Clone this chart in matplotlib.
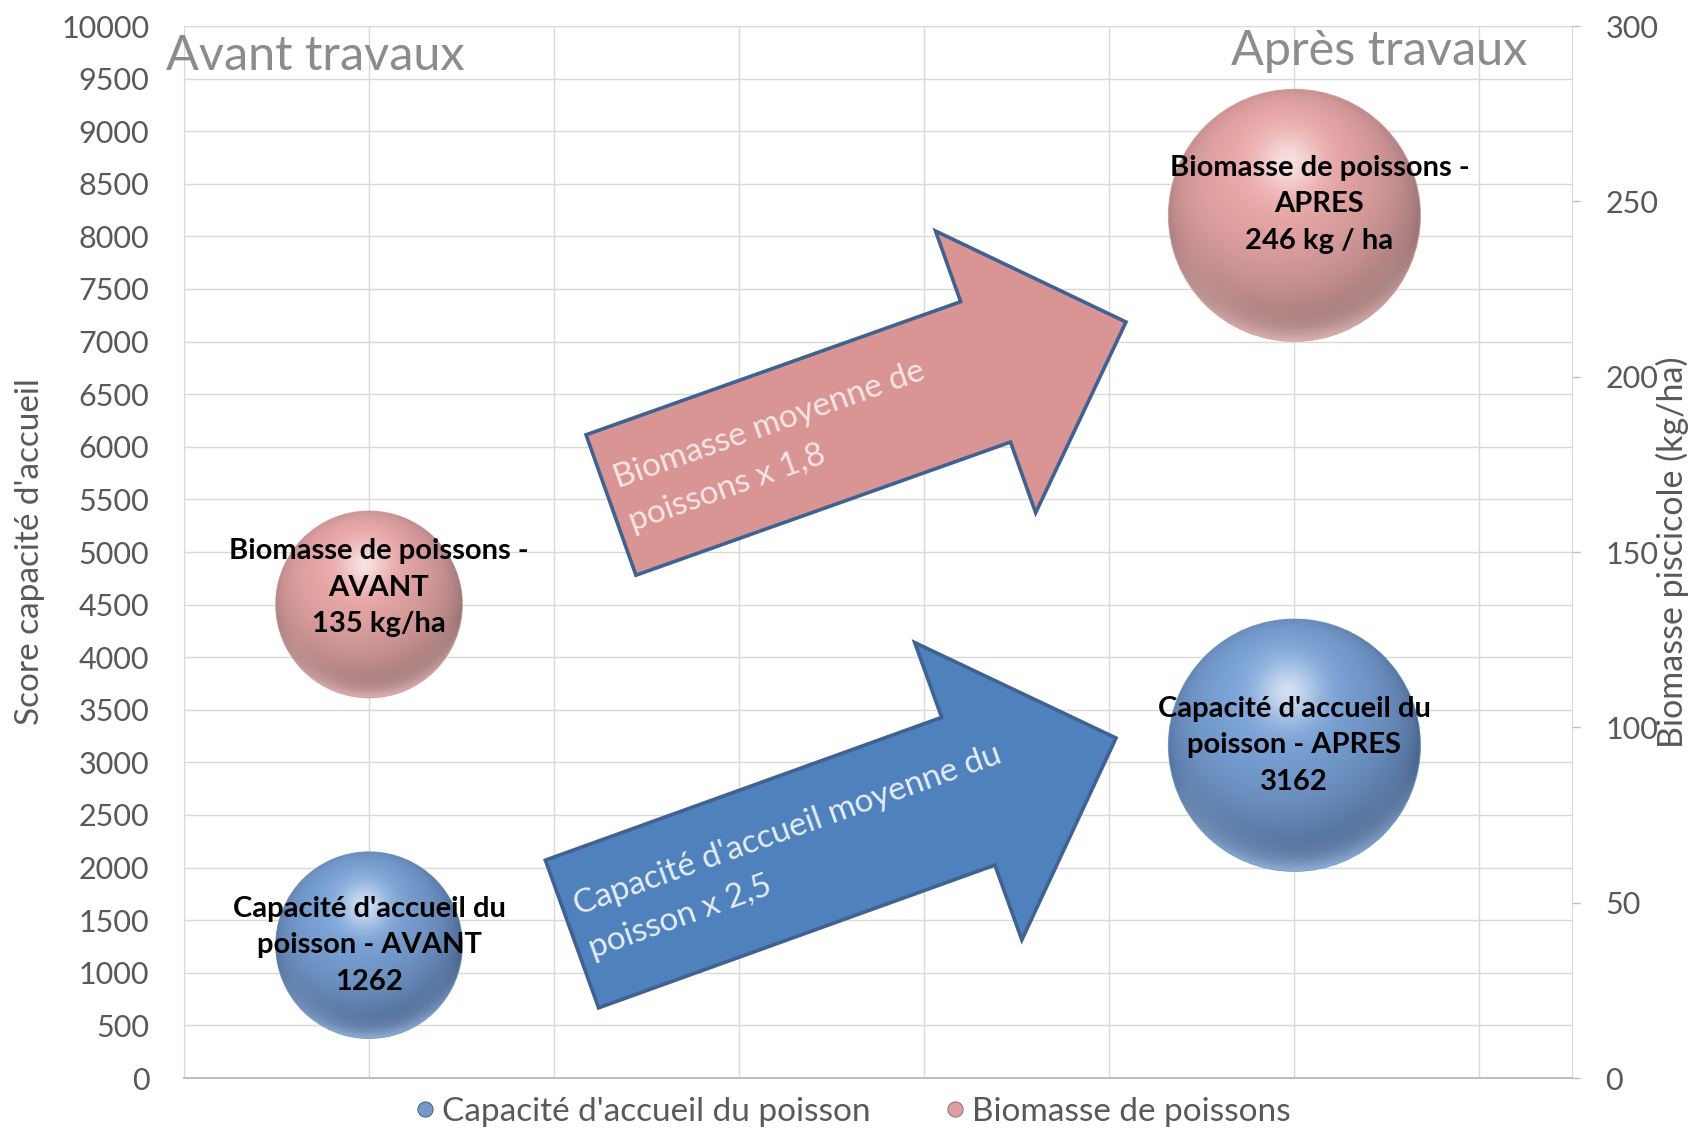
import numpy as np
import matplotlib
matplotlib.use("Agg")
import matplotlib.pyplot as plt
import matplotlib.colors as mcolors
from matplotlib.patches import Polygon
from matplotlib.lines import Line2D

plt.rcParams["font.family"] = ["Lato", "DejaVu Sans"]

# --- data -------------------------------------------------------------
x_pos = [1, 6]                      # avant / après travaux
capacite = [1262, 3162]             # score capacité d'accueil (axe gauche)
biomasse = [135, 246]               # biomasse piscicole kg/ha (axe droit)
taille_bulle = [135, 246]           # taille des bulles (les deux séries)
labels_capacite = ["Capacité d'accueil du\npoisson - AVANT\n1262",
                   "Capacité d'accueil du\npoisson - APRES\n3162"]
labels_biomasse = ["Biomasse de poissons -\nAVANT\n135 kg/ha",
                   "Biomasse de poissons -\nAPRES\n246 kg / ha"]
periodes = ["Avant travaux", "Après travaux"]
texte_fleches = ["Biomasse moyenne de\npoissons x 1,8",
                 "Capacité d'accueil moyenne du\npoisson x 2,5"]
series = ["Capacité d'accueil du poisson", "Biomasse de poissons"]

# --- style ------------------------------------------------------------
W, H, DPI = 1697, 1130, 100
GREY = "#595959"
GRID = "#d9d9d9"
BLUE = dict(base="#7399cb", dark="#3a5277", light="#a9c8ee", text="#e6eef8")
PINK = dict(base="#dc9e9e", dark="#826465", light="#f0c4c4", text="#f6e6e6")
MAX_DIAM_PX = 253


def sphere_rgba(col, r_px, n=320):
    u = np.linspace(-1, 1, n)
    U, V = np.meshgrid(u, u)
    d = np.sqrt(U ** 2 + V ** 2)
    z = np.sqrt(np.clip(1 - d ** 2, 0, 1))
    L = np.array([-0.15, 0.45, 0.88])
    L /= np.linalg.norm(L)
    diff = np.clip(U * L[0] + V * L[1] + z * L[2], 0, 1)
    base = np.array(mcolors.to_rgb(col["base"]))
    dark = np.array(mcolors.to_rgb(col["dark"]))
    light = np.array(mcolors.to_rgb(col["light"]))
    t = np.clip(0.3 + 0.9 * diff, 0, 1.15)[..., None]
    rgb = dark + (base - dark) * t
    spec = np.exp(-((U + 0.05) ** 2 + (V - 0.42) ** 2) / 0.06)[..., None] * 0.65
    rgb = rgb * (1 - spec) + spec
    b = (np.clip((d - 0.72) / 0.28, 0, 1) ** 1.5 * np.clip(-V - 0.15, 0, 1))[..., None] * 0.9
    rgb = rgb * (1 - b) + light * b
    alpha = np.clip((1 - d) * r_px, 0, 1)
    return np.dstack([np.clip(rgb, 0, 1), alpha])


def draw_spheres(ax, xs, ys, sizes, col, labels, offsets):
    smax = max(taille_bulle)
    for x, y, s, lab, off in zip(xs, ys, sizes, labels, offsets):
        diam = MAX_DIAM_PX * np.sqrt(s / smax)
        r = diam / 2
        ax.scatter([x], [y], s=(diam * 72 / DPI) ** 2, color=col["base"],
                   edgecolors="none", zorder=2)
        cx, cy = ax.transData.transform((x, y))
        inv = ax.transData.inverted()
        x0, y0 = inv.transform((cx - r, cy - r))
        x1, y1 = inv.transform((cx + r, cy + r))
        ax.imshow(sphere_rgba(col, r), extent=[x0, x1, y0, y1], origin="lower",
                  aspect="auto", interpolation="bilinear", zorder=3)
        ax.annotate(lab, (x, y), xytext=off, textcoords="offset points",
                    ha="center", va="center", fontsize=21, fontweight="bold",
                    color="black", linespacing=1.5, zorder=6)


def block_arrow(fig, tail, tip, shaft_w, head_w, head_l, face, txt_col, text, u_off, v_off, fs):
    tail = np.array([tail[0], H - tail[1]], float)
    tip = np.array([tip[0], H - tip[1]], float)
    d = (tip - tail) / np.linalg.norm(tip - tail)
    nrm = np.array([-d[1], d[0]])
    base = tip - d * head_l
    pts = [tail + nrm * shaft_w / 2, base + nrm * shaft_w / 2, base + nrm * head_w / 2,
           tip, base - nrm * head_w / 2, base - nrm * shaft_w / 2, tail - nrm * shaft_w / 2]
    pts = [(p[0] / W, p[1] / H) for p in pts]
    fig.add_artist(Polygon(pts, closed=True, transform=fig.transFigure,
                           facecolor=face, edgecolor="#3f6292", lw=2.6,
                           joinstyle="miter", zorder=2))
    ang = np.degrees(np.arctan2(d[1], d[0]))
    p = tail + d * u_off + nrm * v_off
    fig.text(p[0] / W, p[1] / H, text, rotation=ang, rotation_mode="anchor",
             ha="left", va="center", fontsize=fs, color=txt_col,
             linespacing=1.65, zorder=3)


fig = plt.figure(figsize=(W / DPI, H / DPI), dpi=DPI)
ax = fig.add_axes([184 / W, 52 / H, 1388 / W, 1052 / H])
ax2 = ax.twinx()

ax.set_xlim(0, 7.5)
ax.set_ylim(0, 10000)
ax2.set_ylim(0, 300)
ax.set_xticks(np.arange(0, 8, 1))
ax.set_xticklabels([])
ax.tick_params(axis="x", length=0)
ax.set_yticks(np.arange(0, 10001, 500))
ax.tick_params(axis="y", length=0, pad=25, labelsize=22, labelcolor=GREY)
ax2.set_yticks(np.arange(0, 301, 50))
ax2.tick_params(axis="y", length=6, width=1, color="#bfbfbf", pad=18,
                labelsize=22, labelcolor=GREY)
ax.grid(True, color=GRID, lw=1)
ax.set_axisbelow(True)
for side, sp in ax.spines.items():
    sp.set_color(GRID)
ax.spines["bottom"].set_color("#bfbfbf")
ax.spines["bottom"].set_linewidth(1.5)
for sp in ax2.spines.values():
    sp.set_visible(False)

ax.set_ylabel("Score capacité d'accueil", fontsize=24, color=GREY, va="center")
ax.yaxis.set_label_coords((30 - 184) / 1388, 0.5)
ax2.set_ylabel("Biomasse piscicole (kg/ha)", fontsize=24.5, color=GREY, va="center",
               rotation=90)
ax2.yaxis.set_label_coords((1672 - 184) / 1388, 0.5)

draw_spheres(ax, x_pos, capacite, taille_bulle, BLUE, labels_capacite, [(0, 0), (0, 0)])
draw_spheres(ax2, x_pos, biomasse, taille_bulle, PINK, labels_biomasse, [(7, 12), (18, 8)])
ax.set_xlim(0, 7.5)
ax.set_ylim(0, 10000)
ax2.set_ylim(0, 300)

fig.text(166 / W, 1 - 70 / H, periodes[0], ha="left", va="baseline",
         fontsize=35, color="#8c8c8c")
fig.text(1527 / W, 1 - 65 / H, periodes[1], ha="right", va="baseline",
         fontsize=35, color="#8c8c8c")

block_arrow(fig, (611, 505), (1126, 322), 149, 299, 149, "#d99594", PINK["text"],
            texte_fleches[0], 12, 0, 24)
block_arrow(fig, (572, 934), (1116, 738), 157, 316, 157, "#4f81bd", BLUE["text"],
            texte_fleches[1], 12, 2, 24)

handles = [Line2D([], [], marker="o", ls="", markersize=11,
                  markerfacecolor=c["base"], markeredgecolor=c["dark"], markeredgewidth=0.6)
           for c in (BLUE, PINK)]
fig.legend(handles, series, loc="center", bbox_to_anchor=(0.502, 0.016), ncol=2,
           frameon=False, fontsize=24, handletextpad=0.15, columnspacing=2.2,
           labelcolor=GREY, handlelength=0.7)

fig.savefig("out.png", dpi=DPI)
